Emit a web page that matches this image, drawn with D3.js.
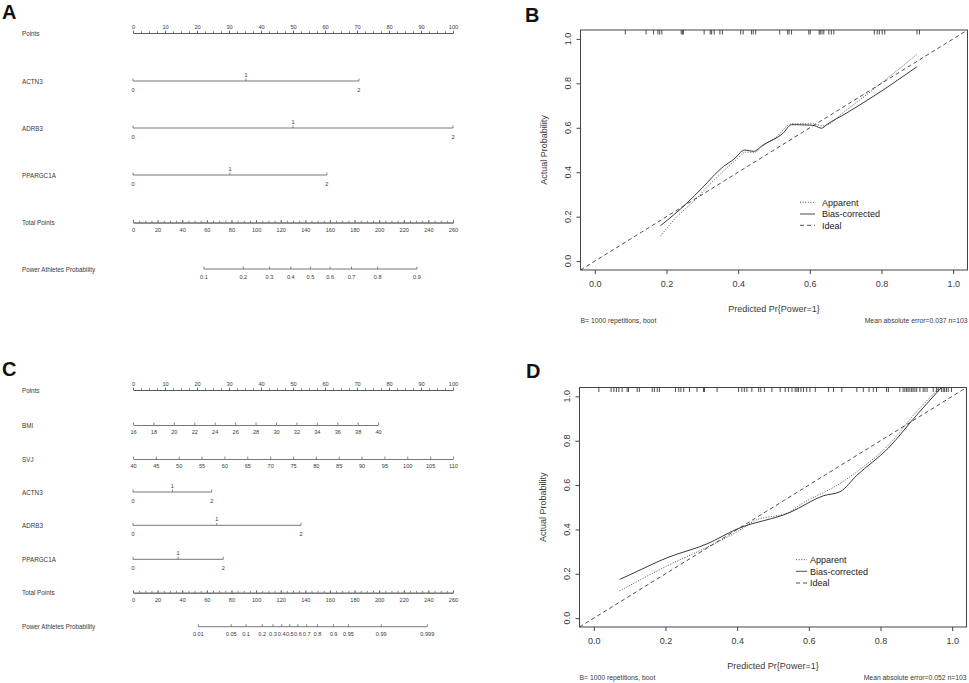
<!DOCTYPE html>
<html>
<head>
<meta charset="utf-8">
<script src="https://cdn.jsdelivr.net/npm/d3@7"></script>
<style>
body { margin: 0; background: #fff; }
svg { display: block; }
text { font-family: "Liberation Sans", Arial, sans-serif; }
</style>
</head>
<body>
<svg width="969" height="683"></svg>
<script>
// ---- nomogram data ----
var pointTicks = [0, 10, 20, 30, 40, 50, 60, 70, 80, 90, 100];
var totalTicks = [0, 20, 40, 60, 80, 100, 120, 140, 160, 180, 200, 220, 240, 260];

// panel A
var varsA = ['ACTN3', 'ADRB3', 'PPARGC1A'];
var levelsA = [0, 1, 2];
var levelPointsA = [[0, 35.3, 70.6], [0, 50, 100], [0, 30.3, 60.6]];
var probTicksA = [0.1, 0.2, 0.3, 0.4, 0.5, 0.6, 0.7, 0.8, 0.9];
var probEndsA = [0.1, 0.9];
var probEndTotalA = [57.7, 230.7];

// panel C
var bmiTicks = [16, 18, 20, 22, 24, 26, 28, 30, 32, 34, 36, 38, 40];
var bmiPoints = [0, 76.6];
var svjTicks = [40, 45, 50, 55, 60, 65, 70, 75, 80, 85, 90, 95, 100, 105, 110];
var svjPoints = [0, 100];
var varsC = ['ACTN3', 'ADRB3', 'PPARGC1A'];
var levelsC = [0, 1, 2];
var levelPointsC = [[0, 12.3, 24.6], [0, 26.2, 52.5], [0, 14.1, 28.2]];
var probTicksC = [0.01, 0.05, 0.1, 0.2, 0.3, 0.4, 0.5, 0.6, 0.7, 0.8, 0.9, 0.95, 0.99, 0.999];
var probEndsC = [0.01, 0.999];
var probEndTotalC = [53.1, 239.1];

// ---- calibration data ----
var calTicks = [0, 0.2, 0.4, 0.6, 0.8, 1.0];

var rugB = [0.085, 0.143, 0.164, 0.176, 0.181, 0.187, 0.241, 0.245, 0.247, 0.305, 0.322, 0.326,
  0.333, 0.349, 0.356, 0.407, 0.414, 0.437, 0.442, 0.449, 0.516, 0.538, 0.542, 0.549, 0.597,
  0.601, 0.626, 0.629, 0.634, 0.639, 0.653, 0.660, 0.667, 0.780, 0.788, 0.794, 0.802, 0.809,
  0.899, 0.906];
var apparentB = [[0.183, 0.112], [0.229, 0.2], [0.27, 0.26], [0.33, 0.36], [0.394, 0.456],
  [0.42, 0.49], [0.445, 0.49], [0.47, 0.52], [0.507, 0.56], [0.549, 0.618], [0.61, 0.618],
  [0.637, 0.609], [0.702, 0.68], [0.776, 0.771], [0.899, 0.931]];
var biasB = [[0.183, 0.159], [0.257, 0.261], [0.30, 0.33], [0.359, 0.426], [0.386, 0.456],
  [0.419, 0.50], [0.442, 0.494], [0.47, 0.523], [0.525, 0.575], [0.549, 0.614], [0.60, 0.612],
  [0.614, 0.609], [0.633, 0.598], [0.646, 0.613], [0.702, 0.666], [0.776, 0.740], [0.899, 0.875]];

var rugD = [0.014, 0.048, 0.056, 0.063, 0.070, 0.079, 0.093, 0.097, 0.121, 0.127, 0.163, 0.169,
  0.177, 0.183, 0.228, 0.237, 0.243, 0.251, 0.267, 0.288, 0.306, 0.309, 0.344, 0.404, 0.413,
  0.420, 0.427, 0.441, 0.460, 0.466, 0.476, 0.497, 0.520, 0.534, 0.543, 0.553, 0.562, 0.567,
  0.571, 0.578, 0.585, 0.594, 0.603, 0.618, 0.655, 0.669, 0.692, 0.734, 0.752, 0.768, 0.780,
  0.789, 0.817, 0.822, 0.854, 0.863, 0.868, 0.873, 0.877, 0.882, 0.887, 0.891, 0.896, 0.901,
  0.910, 0.919, 0.924, 0.930, 0.947, 0.956, 0.961, 0.970, 0.975, 0.979, 0.984, 0.989, 0.998];
var apparentD = [[0.072, 0.123], [0.204, 0.235], [0.316, 0.32], [0.40, 0.39], [0.446, 0.437],
  [0.548, 0.48], [0.567, 0.502], [0.687, 0.607], [0.734, 0.66], [0.826, 0.787], [0.90, 0.93],
  [0.966, 1.04]];
var biasD = [[0.072, 0.175], [0.093, 0.19], [0.204, 0.272], [0.316, 0.335], [0.40, 0.402],
  [0.548, 0.477], [0.641, 0.552], [0.687, 0.570], [0.734, 0.644], [0.822, 0.767], [0.90, 0.914],
  [0.970, 1.04]];

var svg = d3.select('svg');
var textCol = '#3a3a3a';
var lineCol = '#555';

function logit(p) { return Math.log(p / (1 - p)); }

// panel letters
[['A', 2, 19], ['B', 525, 22], ['C', 2, 376], ['D', 526, 378]].forEach(function(d) {
  svg.append('text')
    .attr('x', d[1]).attr('y', d[2])
    .attr('font-size', 20).attr('font-weight', 'bold')
    .attr('fill', '#111')
    .text(d[0]);
});

// ---- nomogram helpers ----
var px = d3.scaleLinear().domain([0, 100]).range([133, 453]);
var tx = d3.scaleLinear().domain([0, 260]).range([133, 453]);

function rowLabel(g, y, name) {
  g.append('text')
    .attr('x', 22).attr('y', y + 2.5)
    .attr('font-size', 6.3).attr('fill', textCol)
    .text(name);
}

function styleAxis(a) {
  a.select('.domain').attr('stroke', lineCol).attr('stroke-width', 0.8);
  a.selectAll('.tick line').attr('stroke', lineCol).attr('stroke-width', 0.7);
  a.selectAll('.tick text').attr('fill', textCol).attr('font-size', 5.6)
    .attr('font-family', '"Liberation Sans", Arial, sans-serif');
}

function pointsRow(g, y) {
  rowLabel(g, y, 'Points');
  var minor = g.append('g').attr('transform', 'translate(0,' + y + ')')
    .call(d3.axisTop(px).tickValues(d3.range(0, 100.1, 2.5)).tickFormat('').tickSize(1.8).tickSizeOuter(0));
  styleAxis(minor);
  var a = g.append('g').attr('transform', 'translate(0,' + y + ')')
    .call(d3.axisTop(px).tickValues(pointTicks).tickSize(2.5).tickSizeOuter(0).tickPadding(1.5));
  styleAxis(a);
}

function totalRow(g, y) {
  rowLabel(g, y, 'Total Points');
  var minor = g.append('g').attr('transform', 'translate(0,' + y + ')')
    .call(d3.axisBottom(tx).tickValues(d3.range(0, 260.1, 5)).tickFormat('').tickSizeInner(-1.8).tickSizeOuter(0));
  styleAxis(minor);
  var a = g.append('g').attr('transform', 'translate(0,' + y + ')')
    .call(d3.axisBottom(tx).tickValues(totalTicks).tickSizeInner(-2.5).tickSizeOuter(0).tickPadding(5.5));
  styleAxis(a);
}

function contRow(g, y, name, ticks, pts) {
  rowLabel(g, y, name);
  var s = d3.scaleLinear().domain([ticks[0], ticks[ticks.length - 1]]).range([px(pts[0]), px(pts[1])]);
  var a = g.append('g').attr('transform', 'translate(0,' + y + ')')
    .call(d3.axisBottom(s).tickValues(ticks).tickSizeInner(-2.5).tickSizeOuter(0).tickPadding(5.5));
  styleAxis(a);
}

function catRow(g, y, name, levels, pts) {
  rowLabel(g, y, name);
  var s = d3.scaleOrdinal().domain(levels).range(pts.map(px));
  g.append('line')
    .attr('x1', s(levels[0])).attr('x2', s(levels[levels.length - 1]))
    .attr('y1', y).attr('y2', y)
    .attr('stroke', lineCol).attr('stroke-width', 0.8);
  var t = g.selectAll('.lvl' + name).data(levels).enter().append('g')
    .attr('transform', function(d) { return 'translate(' + s(d) + ',' + y + ')'; });
  t.append('line').attr('y1', 0).attr('y2', -2.5).attr('stroke', lineCol).attr('stroke-width', 0.7);
  t.append('text')
    .attr('text-anchor', 'middle')
    .attr('y', function(d, i) { return i % 2 ? -4.5 : 10.5; })
    .attr('font-size', 5.6).attr('fill', textCol)
    .text(function(d) { return d; });
}

function probRow(g, y, ticks, ends, endTotals) {
  rowLabel(g, y, 'Power Athletes Probability');
  // logit scale mapped onto the total-points scale
  var s = d3.scaleLinear().domain(ends.map(logit)).range(endTotals.map(tx));
  var pos = function(p) { return s(logit(p)); };
  g.append('line')
    .attr('x1', pos(ticks[0])).attr('x2', pos(ticks[ticks.length - 1]))
    .attr('y1', y).attr('y2', y)
    .attr('stroke', lineCol).attr('stroke-width', 0.8);
  var t = g.selectAll('.pt').data(ticks).enter().append('g')
    .attr('transform', function(d) { return 'translate(' + pos(d) + ',' + y + ')'; });
  t.append('line').attr('y1', 0).attr('y2', -2.5).attr('stroke', lineCol).attr('stroke-width', 0.7);
  t.append('text')
    .attr('text-anchor', 'middle')
    .attr('y', 9.5)
    .attr('font-size', 5.6).attr('fill', textCol)
    .text(function(d) { return d; });
}

// ---- panel A ----
var gA = svg.append('g');
var rowsA = [81, 128, 175];
pointsRow(gA, 33);
varsA.forEach(function(v, i) { catRow(gA, rowsA[i], v, levelsA, levelPointsA[i]); });
totalRow(gA, 222.5);
probRow(gA, 269, probTicksA, probEndsA, probEndTotalA);

// ---- panel C ----
var gC = svg.append('g');
var rowsC = [492, 525.3, 559.3];
pointsRow(gC, 390);
contRow(gC, 425, 'BMI', bmiTicks, bmiPoints);
contRow(gC, 459, 'SVJ', svjTicks, svjPoints);
varsC.forEach(function(v, i) { catRow(gC, rowsC[i], v, levelsC, levelPointsC[i]); });
totalRow(gC, 592.7);
probRow(gC, 626.7, probTicksC, probEndsC, probEndTotalC);

// ---- calibration panels ----
function calPanel(cfg) {
  var g = svg.append('g');
  var x = d3.scaleLinear().domain([-0.04, 1.04]).range([cfg.left, cfg.right]);
  var y = d3.scaleLinear().domain([-0.04, 1.04]).range([cfg.bottom, cfg.top]);
  var ink = '#222';

  var clipId = 'clip' + cfg.id;
  g.append('clipPath').attr('id', clipId).append('rect')
    .attr('x', cfg.left).attr('y', cfg.top)
    .attr('width', cfg.right - cfg.left).attr('height', cfg.bottom - cfg.top);

  var xa = g.append('g').attr('transform', 'translate(0,' + cfg.bottom + ')')
    .call(d3.axisBottom(x).tickValues(calTicks).tickFormat(d3.format('.1f')).tickSize(4).tickSizeOuter(0).tickPadding(7));
  xa.select('.domain').remove();
  xa.selectAll('.tick line').attr('stroke', '#444');
  xa.selectAll('.tick text').attr('font-size', 9).attr('fill', textCol)
    .attr('font-family', '"Liberation Sans", Arial, sans-serif');

  var ya = g.append('g').attr('transform', 'translate(' + cfg.left + ',0)')
    .call(d3.axisLeft(y).tickValues(calTicks).tickFormat('').tickSize(4).tickSizeOuter(0));
  ya.select('.domain').remove();
  ya.selectAll('.tick line').attr('stroke', '#444');
  g.selectAll('.ylab').data(calTicks).enter().append('text')
    .attr('transform', function(d) { return 'translate(' + (cfg.left - 10) + ',' + y(d) + ') rotate(-90)'; })
    .attr('text-anchor', 'middle')
    .attr('font-size', 9).attr('fill', textCol)
    .text(d3.format('.1f'));

  g.append('rect')
    .attr('x', cfg.left).attr('y', cfg.top)
    .attr('width', cfg.right - cfg.left).attr('height', cfg.bottom - cfg.top)
    .attr('fill', 'none').attr('stroke', '#444').attr('stroke-width', 1);

  var plot = g.append('g').attr('clip-path', 'url(#' + clipId + ')');

  // rug along the top
  plot.selectAll('.rug').data(cfg.rug).enter().append('line')
    .attr('x1', function(d) { return x(d); }).attr('x2', function(d) { return x(d); })
    .attr('y1', cfg.top).attr('y2', cfg.top + 4.5)
    .attr('stroke', ink).attr('stroke-width', 0.8);

  // ideal
  plot.append('line')
    .attr('x1', x(-0.04)).attr('y1', y(-0.04))
    .attr('x2', x(1.04)).attr('y2', y(1.04))
    .attr('stroke', ink).attr('stroke-width', 0.8).attr('stroke-dasharray', '4,3');

  var line = d3.line().x(function(d) { return x(d[0]); }).y(function(d) { return y(d[1]); })
    .curve(d3.curveMonotoneX);
  plot.append('path').datum(cfg.apparent).attr('d', line)
    .attr('fill', 'none').attr('stroke', ink).attr('stroke-width', 0.8).attr('stroke-dasharray', '1,1.6');
  plot.append('path').datum(cfg.bias).attr('d', line)
    .attr('fill', 'none').attr('stroke', ink).attr('stroke-width', 0.9);

  // legend
  var leg = [['Apparent', '1,1.6'], ['Bias-corrected', null], ['Ideal', '4,3']];
  leg.forEach(function(d, i) {
    var ly = cfg.legY[i];
    g.append('line')
      .attr('x1', cfg.legX[0]).attr('x2', cfg.legX[1])
      .attr('y1', ly).attr('y2', ly)
      .attr('stroke', ink).attr('stroke-width', 0.8)
      .attr('stroke-dasharray', d[1]);
    g.append('text')
      .attr('x', cfg.legX[2]).attr('y', ly + 3.3)
      .attr('font-size', 9).attr('fill', '#222')
      .text(d[0]);
  });

  g.append('text')
    .attr('x', (cfg.left + cfg.right) / 2).attr('y', cfg.bottom + 42)
    .attr('text-anchor', 'middle').attr('font-size', 9).attr('fill', textCol)
    .text('Predicted Pr{Power=1}');
  g.append('text')
    .attr('transform', 'translate(' + (cfg.left - 34) + ',' + y(0.5) + ') rotate(-90)')
    .attr('text-anchor', 'middle').attr('font-size', 9).attr('fill', textCol)
    .text('Actual Probability');
  g.append('text')
    .attr('x', cfg.left).attr('y', cfg.bottom + 53)
    .attr('font-size', 6.8).attr('fill', textCol)
    .text('B= 1000 repetitions, boot');
  g.append('text')
    .attr('x', cfg.right).attr('y', cfg.bottom + 53)
    .attr('text-anchor', 'end')
    .attr('font-size', 6.8).attr('fill', textCol)
    .text(cfg.mae);
}

calPanel({ id: 'B', left: 580.5, right: 967.5, top: 30, bottom: 270,
  rug: rugB, apparent: apparentB, bias: biasB,
  legX: [800, 815, 822], legY: [202.3, 214, 225.3],
  mae: 'Mean absolute error=0.037 n=103' });
calPanel({ id: 'D', left: 579.5, right: 966.5, top: 387.5, bottom: 627,
  rug: rugD, apparent: apparentD, bias: biasD,
  legX: [796, 807, 810], legY: [559.7, 571.3, 583],
  mae: 'Mean absolute error=0.052 n=103' });
</script>
</body>
</html>
